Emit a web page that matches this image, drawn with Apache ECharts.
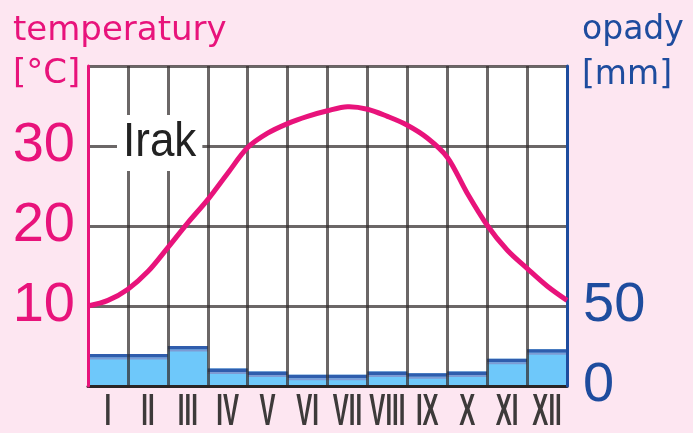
<!DOCTYPE html>
<html>
<head>
<meta charset="utf-8">
<script src="https://cdn.jsdelivr.net/npm/echarts@6/dist/echarts.min.js"></script>
<style>
html,body{margin:0;padding:0;background:#FDE6F1;}
#chart{width:693px;height:433px;}
</style>
</head>
<body>
<div id="chart"></div>
<script>
// ---- data ----
const months = ['I','II','III','IV','V','VI','VII','VIII','IX','X','XI','XII'];
// temperature [°C] read at the middle of each month
const temperature = [10.7, 14.3, 20.4, 26.6, 31.6, 33.7, 34.9, 33.7, 31.0, 24.1, 17.0, 12.5];
// temperature [°C] read on the curve at the 13 month boundaries (start of I ... end of XII)
const temperatureAtBoundaries = [10.0, 12.1, 17.3, 23.3, 29.8, 32.8, 34.4, 34.6, 32.6, 28.6, 20.1, 14.7, 10.7];
// precipitation [mm]
const precipitation = [20, 20, 25, 11, 9, 7, 7, 9, 8, 9, 17, 23];
const tempTickLabels = [10, 20, 30];
const precipTickLabels = [0, 50];
const stationName = 'Irak';

// ---- styling ----
const PINK = '#E8137B';
const BLUE = '#1E4C9E';
const GRID = 'rgba(50,45,45,0.72)';

const chart = echarts.init(document.getElementById('chart'));

const linePoints = [];
for (let i = 0; i < months.length; i++) {
  linePoints.push([i, temperatureAtBoundaries[i]]);
  linePoints.push([i + 0.5, temperature[i]]);
}
linePoints.push([months.length, temperatureAtBoundaries[months.length]]);

function renderBar(params, api) {
  const i = api.value(0);
  const v = api.value(1);
  const top = api.coord([i, v]);
  const bottom = api.coord([i, 0]);
  const w = api.size([1, 0])[0];
  const x = top[0] - w / 2;
  return {
    type: 'group',
    children: [
      {type: 'rect', shape: {x: x, y: top[1], width: w, height: bottom[1] - top[1]}, style: {fill: '#6EC8FA'}},
      {type: 'rect', shape: {x: x, y: top[1], width: w, height: 3.5}, style: {fill: '#2F5DAD'}},
      {type: 'rect', shape: {x: x, y: top[1] + 3.5, width: w, height: 2}, style: {fill: '#7D9BD4'}}
    ]
  };
}

// temperature curve: one smooth polyline through all read points, placed with the axis scales
function renderCurve(params, api) {
  if (params.dataIndex !== 0) return null;
  const pts = linePoints.map(p => api.coord(p));
  return {
    type: 'polyline',
    shape: {points: pts, smooth: 0.33},
    style: {stroke: PINK, lineWidth: 5, fill: null, lineJoin: 'round', lineCap: 'butt'}
  };
}

const option = {
  backgroundColor: '#FDE6F1',
  animation: false,
  grid: {left: 88, right: 126, top: 66, bottom: 47, show: true, backgroundColor: '#ffffff', borderWidth: 0},
  xAxis: [
    {
      type: 'category', data: months, boundaryGap: true, z: 2,
      axisLine: {show: true, lineStyle: {color: '#2a2525', width: 3}},
      axisTick: {show: false},
      axisLabel: {show: false},
      splitLine: {show: true, interval: 0, lineStyle: {color: GRID, width: 3}}
    },
    {type: 'value', min: 0, max: months.length, show: false}
  ],
  yAxis: [
    {
      type: 'value', min: 0, max: 40, interval: 10, position: 'left', z: 3,
      axisLine: {show: true, lineStyle: {color: PINK, width: 3}},
      axisTick: {show: false},
      axisLabel: {margin: 13, color: PINK, fontSize: 56, fontFamily: '"Liberation Sans", sans-serif',
        formatter: v => tempTickLabels.includes(v) ? String(v) : ''},
      splitLine: {show: true, lineStyle: {color: ['rgba(0,0,0,0)', GRID, GRID, GRID, GRID], width: 3}}
    },
    {
      type: 'value', min: 0, max: 200, interval: 50, position: 'right', z: 3,
      axisLine: {show: true, lineStyle: {color: BLUE, width: 3}},
      axisTick: {show: false},
      axisLabel: {margin: 16, color: BLUE, fontSize: 56, fontFamily: '"Liberation Sans", sans-serif',
        formatter: v => precipTickLabels.includes(v) ? String(v) : ''},
      splitLine: {show: false}
    }
  ],
  series: [
    {
      type: 'custom', name: 'opady', xAxisIndex: 0, yAxisIndex: 1, z: 1,
      renderItem: renderBar,
      encode: {x: 0, y: 1},
      data: precipitation.map((v, i) => [i, v])
    },
    {
      type: 'custom', name: 'temperatura', xAxisIndex: 1, yAxisIndex: 0, z: 5,
      renderItem: renderCurve,
      encode: {x: 0, y: 1},
      data: linePoints
    }
  ]
};
chart.setOption(option);

// month labels: tall, narrow roman numerals placed through the category axis scale
const baseY = chart.convertToPixel({yAxisIndex: 0}, 0);
const graphics = [
  {type: 'text', x: 13, y: 31, z: 10, style: {text: 'temperatury', fill: PINK, font: '34px "DejaVu Sans"', verticalAlign: 'middle'}},
  {type: 'text', x: 13, y: 74, z: 10, style: {text: '[°C]', fill: PINK, font: '34px "DejaVu Sans"', verticalAlign: 'middle'}},
  {type: 'text', x: 582, y: 30, z: 10, style: {text: 'opady', fill: BLUE, font: '33px "DejaVu Sans"', verticalAlign: 'middle'}},
  {type: 'text', x: 582, y: 75, z: 10, style: {text: '[mm]', fill: BLUE, font: '33px "DejaVu Sans"', verticalAlign: 'middle'}},
  {type: 'text', x: 117, y: 143, z: 10, scaleY: 1.08, originY: 0, style: {text: stationName, fill: '#222', font: '44px "Liberation Sans"', verticalAlign: 'middle',
    backgroundColor: '#ffffff', padding: [4, 6, 4, 6]}}
];
months.forEach(function (m) {
  const px = chart.convertToPixel({xAxisIndex: 0}, m);
  graphics.push({
    type: 'text', x: px, y: baseY + 5, scaleY: 1.85, z: 10,
    style: {text: m, fill: '#3d3a3a', font: 'bold 24px "Liberation Sans"', align: 'center', verticalAlign: 'top'}
  });
});
chart.setOption({graphic: graphics});
</script>
</body>
</html>
